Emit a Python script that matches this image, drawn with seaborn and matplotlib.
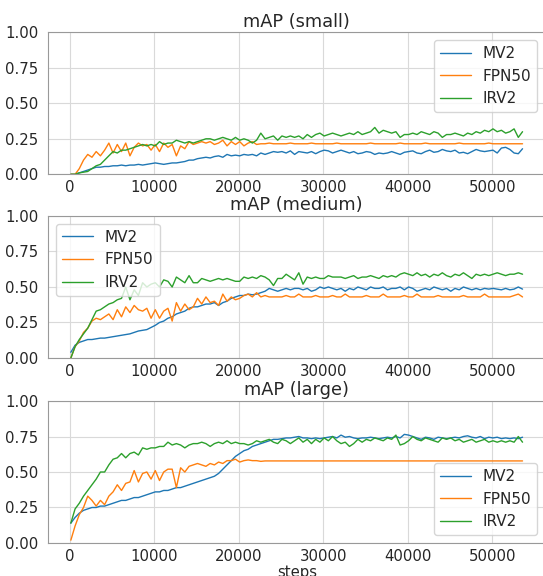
import numpy as np
import pandas as pd
import seaborn as sns
import matplotlib
matplotlib.use("Agg")
import matplotlib.pyplot as plt

# evaluation every 500 steps
steps = np.arange(100, 53601, 500)
models = ["MV2", "FPN50", "IRV2"]

small_mv2 = [0.00, 0.00, 0.01, 0.02, 0.03, 0.04, 0.05, 0.05, 0.055, 0.055,
             0.06, 0.06, 0.065, 0.06, 0.065, 0.065, 0.07, 0.065, 0.07, 0.075,
             0.08, 0.075, 0.07, 0.075, 0.08, 0.08, 0.085, 0.09, 0.10, 0.10,
             0.11, 0.115, 0.12, 0.115, 0.125, 0.13, 0.12, 0.14, 0.13, 0.135,
             0.13, 0.14, 0.135, 0.14, 0.13, 0.15, 0.14, 0.15, 0.16, 0.155,
             0.16, 0.15, 0.165, 0.14, 0.16, 0.155, 0.15, 0.16, 0.145, 0.16,
             0.17, 0.165, 0.15, 0.16, 0.17, 0.16, 0.15, 0.16, 0.145, 0.15,
             0.16, 0.155, 0.14, 0.15, 0.145, 0.15, 0.16, 0.15, 0.14, 0.155,
             0.16, 0.165, 0.15, 0.145, 0.16, 0.17, 0.155, 0.16, 0.175, 0.165,
             0.16, 0.17, 0.15, 0.155, 0.145, 0.16, 0.175, 0.165, 0.16, 0.165,
             0.17, 0.15, 0.185, 0.19, 0.175, 0.15, 0.145, 0.18]
small_fpn50 = [0.00, 0.00, 0.04, 0.10, 0.14, 0.12, 0.16, 0.13, 0.17, 0.22,
               0.15, 0.21, 0.16, 0.22, 0.13, 0.19, 0.22, 0.20, 0.21, 0.17,
               0.21, 0.16, 0.22, 0.19, 0.21, 0.13, 0.20, 0.18, 0.23, 0.21,
               0.22, 0.23, 0.22, 0.23, 0.21, 0.22, 0.24, 0.20, 0.23, 0.21,
               0.23, 0.20, 0.22, 0.23, 0.21, 0.215, 0.215, 0.22, 0.215, 0.215,
               0.215, 0.215, 0.22, 0.215, 0.215, 0.215, 0.215, 0.22, 0.215, 0.215,
               0.215, 0.215, 0.215, 0.22, 0.215, 0.215, 0.215, 0.215, 0.215, 0.215,
               0.215, 0.22, 0.215, 0.215, 0.215, 0.215, 0.215, 0.215, 0.22, 0.215,
               0.215, 0.215, 0.215, 0.215, 0.22, 0.215, 0.215, 0.215, 0.215, 0.215,
               0.215, 0.215, 0.22, 0.215, 0.215, 0.215, 0.215, 0.215, 0.215, 0.22,
               0.215, 0.215, 0.215, 0.215, 0.215, 0.215, 0.215, 0.215]
small_irv2 = [0.00, 0.00, 0.01, 0.015, 0.02, 0.04, 0.06, 0.07, 0.10, 0.13,
              0.16, 0.15, 0.17, 0.17, 0.18, 0.19, 0.20, 0.21, 0.20, 0.21,
              0.20, 0.23, 0.21, 0.22, 0.22, 0.24, 0.23, 0.22, 0.23, 0.22,
              0.23, 0.24, 0.25, 0.25, 0.24, 0.25, 0.26, 0.25, 0.24, 0.26,
              0.24, 0.25, 0.24, 0.22, 0.24, 0.29, 0.25, 0.26, 0.27, 0.24,
              0.27, 0.26, 0.27, 0.26, 0.27, 0.25, 0.28, 0.26, 0.28, 0.29,
              0.27, 0.28, 0.29, 0.28, 0.27, 0.28, 0.29, 0.28, 0.30, 0.28,
              0.29, 0.30, 0.33, 0.29, 0.31, 0.30, 0.29, 0.30, 0.26, 0.28,
              0.28, 0.29, 0.28, 0.30, 0.29, 0.28, 0.30, 0.29, 0.26, 0.28,
              0.28, 0.29, 0.28, 0.27, 0.29, 0.28, 0.30, 0.29, 0.31, 0.30,
              0.32, 0.30, 0.31, 0.29, 0.30, 0.32, 0.26, 0.30]

medium_mv2 = [0.04, 0.09, 0.11, 0.12, 0.13, 0.13, 0.135, 0.14, 0.14, 0.145,
              0.15, 0.155, 0.16, 0.165, 0.17, 0.18, 0.19, 0.195, 0.20, 0.215,
              0.23, 0.25, 0.26, 0.28, 0.29, 0.31, 0.32, 0.33, 0.35, 0.36,
              0.36, 0.37, 0.38, 0.38, 0.39, 0.37, 0.39, 0.40, 0.42, 0.43,
              0.44, 0.44, 0.45, 0.445, 0.45, 0.46, 0.47, 0.49, 0.48, 0.47,
              0.48, 0.49, 0.48, 0.49, 0.49, 0.48, 0.49, 0.47, 0.48, 0.50,
              0.49, 0.50, 0.49, 0.48, 0.49, 0.47, 0.49, 0.48, 0.50, 0.49,
              0.48, 0.50, 0.49, 0.49, 0.50, 0.48, 0.49, 0.49, 0.50, 0.48,
              0.50, 0.49, 0.47, 0.48, 0.49, 0.48, 0.50, 0.49, 0.48, 0.49,
              0.47, 0.49, 0.48, 0.50, 0.49, 0.48, 0.49, 0.48, 0.49, 0.485,
              0.49, 0.485, 0.48, 0.49, 0.48, 0.485, 0.50, 0.485]
medium_fpn50 = [0.00, 0.08, 0.12, 0.18, 0.21, 0.26, 0.28, 0.27, 0.29, 0.31,
                0.27, 0.34, 0.29, 0.36, 0.32, 0.37, 0.34, 0.33, 0.35, 0.28,
                0.34, 0.28, 0.33, 0.35, 0.26, 0.39, 0.33, 0.38, 0.34, 0.36,
                0.42, 0.38, 0.43, 0.39, 0.40, 0.37, 0.45, 0.40, 0.43, 0.41,
                0.42, 0.44, 0.45, 0.43, 0.46, 0.43, 0.44, 0.43, 0.43, 0.43,
                0.43, 0.44, 0.43, 0.43, 0.45, 0.43, 0.43, 0.43, 0.44, 0.43,
                0.43, 0.43, 0.44, 0.43, 0.43, 0.45, 0.43, 0.43, 0.43, 0.43,
                0.44, 0.43, 0.43, 0.43, 0.45, 0.43, 0.43, 0.43, 0.43, 0.44,
                0.43, 0.43, 0.45, 0.43, 0.43, 0.43, 0.43, 0.44, 0.43, 0.43,
                0.43, 0.43, 0.43, 0.44, 0.43, 0.43, 0.43, 0.43, 0.45, 0.43,
                0.43, 0.43, 0.43, 0.43, 0.43, 0.44, 0.45, 0.43]
medium_irv2 = [0.00, 0.08, 0.13, 0.17, 0.21, 0.27, 0.33, 0.34, 0.36, 0.38,
               0.39, 0.41, 0.42, 0.50, 0.41, 0.48, 0.44, 0.53, 0.50, 0.52,
               0.53, 0.50, 0.55, 0.54, 0.50, 0.57, 0.55, 0.53, 0.58, 0.53,
               0.53, 0.56, 0.55, 0.54, 0.55, 0.56, 0.55, 0.56, 0.55, 0.54,
               0.54, 0.57, 0.56, 0.57, 0.56, 0.58, 0.57, 0.55, 0.51, 0.56,
               0.56, 0.59, 0.57, 0.55, 0.60, 0.52, 0.57, 0.56, 0.57, 0.56,
               0.56, 0.58, 0.57, 0.57, 0.57, 0.56, 0.57, 0.58, 0.56, 0.57,
               0.57, 0.58, 0.57, 0.56, 0.58, 0.57, 0.58, 0.57, 0.59, 0.60,
               0.59, 0.58, 0.60, 0.58, 0.59, 0.57, 0.59, 0.58, 0.60, 0.58,
               0.57, 0.59, 0.58, 0.60, 0.58, 0.56, 0.59, 0.58, 0.59, 0.58,
               0.59, 0.60, 0.59, 0.58, 0.59, 0.59, 0.60, 0.59]

large_mv2 = [0.14, 0.18, 0.21, 0.23, 0.24, 0.25, 0.25, 0.26, 0.26, 0.27,
             0.28, 0.29, 0.30, 0.30, 0.31, 0.32, 0.32, 0.33, 0.34, 0.35,
             0.36, 0.36, 0.37, 0.37, 0.38, 0.39, 0.39, 0.40, 0.41, 0.42,
             0.43, 0.44, 0.45, 0.46, 0.47, 0.49, 0.52, 0.55, 0.58, 0.61,
             0.63, 0.65, 0.66, 0.68, 0.69, 0.70, 0.71, 0.72, 0.73, 0.73,
             0.735, 0.74, 0.74, 0.745, 0.75, 0.74, 0.74, 0.735, 0.74, 0.735,
             0.74, 0.745, 0.75, 0.74, 0.76, 0.745, 0.75, 0.74, 0.735, 0.74,
             0.74, 0.745, 0.74, 0.735, 0.74, 0.745, 0.74, 0.75, 0.74, 0.765,
             0.76, 0.75, 0.74, 0.73, 0.745, 0.74, 0.73, 0.745, 0.74, 0.735,
             0.74, 0.745, 0.74, 0.75, 0.755, 0.745, 0.74, 0.75, 0.735, 0.745,
             0.74, 0.745, 0.735, 0.74, 0.735, 0.74, 0.735, 0.745]
large_fpn50 = [0.02, 0.12, 0.20, 0.25, 0.33, 0.30, 0.26, 0.30, 0.27, 0.33,
               0.36, 0.41, 0.37, 0.42, 0.43, 0.51, 0.43, 0.49, 0.50, 0.45,
               0.51, 0.44, 0.50, 0.52, 0.52, 0.39, 0.53, 0.50, 0.54, 0.55,
               0.56, 0.55, 0.54, 0.56, 0.55, 0.57, 0.56, 0.58, 0.58, 0.59,
               0.57, 0.58, 0.585, 0.58, 0.58, 0.575, 0.578, 0.578, 0.578, 0.578,
               0.578, 0.578, 0.578, 0.578, 0.578, 0.578, 0.578, 0.578, 0.578, 0.578,
               0.578, 0.578, 0.578, 0.578, 0.578, 0.578, 0.578, 0.578, 0.578, 0.578,
               0.578, 0.578, 0.578, 0.578, 0.578, 0.578, 0.578, 0.578, 0.578, 0.578,
               0.578, 0.578, 0.578, 0.578, 0.578, 0.578, 0.578, 0.578, 0.578, 0.578,
               0.578, 0.578, 0.578, 0.578, 0.578, 0.578, 0.578, 0.578, 0.578, 0.578,
               0.578, 0.578, 0.578, 0.578, 0.578, 0.578, 0.578, 0.578]
large_irv2 = [0.14, 0.24, 0.28, 0.33, 0.37, 0.41, 0.45, 0.50, 0.50, 0.55,
              0.59, 0.60, 0.63, 0.60, 0.63, 0.64, 0.62, 0.67, 0.66, 0.67,
              0.67, 0.68, 0.68, 0.71, 0.69, 0.70, 0.69, 0.67, 0.69, 0.70,
              0.70, 0.71, 0.70, 0.68, 0.70, 0.71, 0.70, 0.72, 0.70, 0.71,
              0.70, 0.70, 0.69, 0.70, 0.72, 0.71, 0.72, 0.73, 0.71, 0.70,
              0.73, 0.72, 0.70, 0.72, 0.74, 0.71, 0.73, 0.70, 0.73, 0.71,
              0.74, 0.72, 0.75, 0.72, 0.70, 0.71, 0.68, 0.70, 0.73, 0.71,
              0.73, 0.72, 0.74, 0.73, 0.72, 0.74, 0.73, 0.76, 0.69, 0.70,
              0.72, 0.75, 0.73, 0.72, 0.74, 0.73, 0.72, 0.71, 0.74, 0.73,
              0.74, 0.72, 0.73, 0.71, 0.72, 0.73, 0.71, 0.72, 0.73, 0.71,
              0.72, 0.71, 0.72, 0.71, 0.72, 0.71, 0.75, 0.71]

panels = [
    ("mAP (small)", [small_mv2, small_fpn50, small_irv2], "upper right"),
    ("mAP (medium)", [medium_mv2, medium_fpn50, medium_irv2], "upper left"),
    ("mAP (large)", [large_mv2, large_fpn50, large_irv2], "lower right"),
]

sns.set_style("whitegrid", {"axes.edgecolor": ".6", "grid.color": ".85"})
plt.rcParams['font.family'] = ['DejaVu Sans']

fig = plt.figure(figsize=(5.43, 5.76), dpi=100)
bottoms = [0.6974, 0.3785, 0.0573]
palette = sns.color_palette("tab10", 3)

for (title, series, loc), b in zip(panels, bottoms):
    ax = fig.add_axes([0.0889, b, 0.915, 0.2465])
    df = pd.DataFrame({
        "steps": np.tile(steps, 3),
        "mAP": np.concatenate(series),
        "model": np.repeat(models, len(steps)),
    })
    sns.lineplot(data=df, x="steps", y="mAP", hue="model", palette=palette,
                 linewidth=1, ax=ax)
    ax.set_ylim(0, 1)
    ax.set_yticks([0, 0.25, 0.5, 0.75, 1.0])
    ax.set_title(title, fontsize=12.8, pad=4)
    ax.set_ylabel("")
    ax.set_xlabel("")
    ax.tick_params(axis="x", labelsize=10.7, pad=0.5)
    ax.tick_params(axis="y", labelsize=10.7, pad=3.5)
    ax.legend(loc=loc, fontsize=11, title=None)

ax.set_xlabel("steps", fontsize=10.7, labelpad=1)

fig.savefig("out.png", dpi=100)
